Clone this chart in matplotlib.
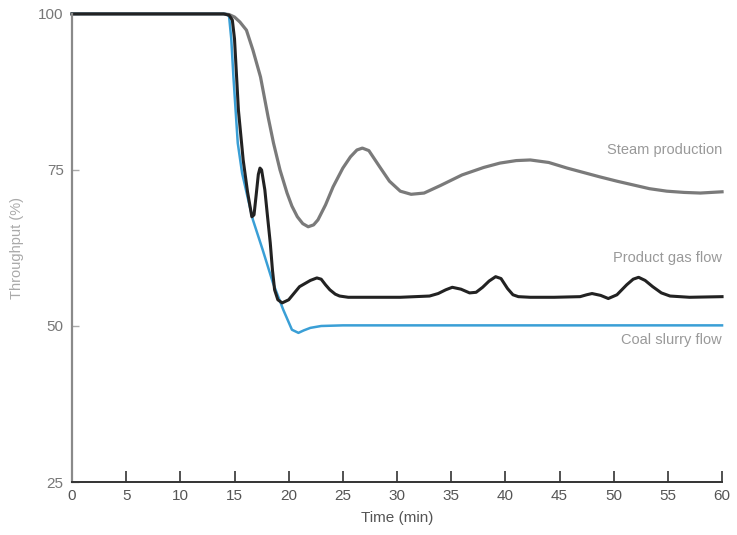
import numpy as np
import matplotlib
matplotlib.use("Agg")
import matplotlib.pyplot as plt

plt.rcParams['font.family'] = ['Liberation Sans', 'DejaVu Sans']

# values (time in min, throughput in %)
steam_t = [0, 14.0, 14.5, 15.0, 15.5, 16.1, 16.7, 17.4, 18.1, 18.6, 19.2, 19.85,
           20.3, 20.8, 21.3, 21.8, 22.3, 22.7, 23.4, 24.1, 25.0, 25.7, 26.3, 26.8,
           27.4, 28.4, 29.3, 30.3, 31.3, 32.5, 34.0, 36.0, 38.0, 39.5, 41.0, 42.3,
           44.0, 45.7, 47.2, 48.7, 50.3, 51.8, 53.3, 54.9, 56.5, 58.0, 60.0]
steam_v = [100, 100, 99.9, 99.5, 98.7, 97.4, 94.2, 89.9, 83.5, 79.3, 75.0, 71.3,
           69.2, 67.5, 66.4, 65.9, 66.2, 67.0, 69.4, 72.3, 75.3, 77.1, 78.2, 78.5,
           78.1, 75.5, 73.2, 71.6, 71.1, 71.3, 72.5, 74.2, 75.4, 76.1, 76.5, 76.6,
           76.2, 75.3, 74.6, 73.9, 73.2, 72.6, 72.0, 71.6, 71.4, 71.3, 71.5]

gas_t = [0, 14.0, 14.5, 14.8, 15.0, 15.36, 15.8, 16.2, 16.6, 16.8, 17.0, 17.2,
         17.35, 17.5, 17.8, 18.05, 18.3, 18.5, 18.7, 19.0, 19.4, 20.0, 21.0, 22.0,
         22.6, 23.0, 23.4, 23.8, 24.3, 24.7, 25.5, 28.0, 30.3, 33.0, 33.8, 34.5,
         35.1, 35.9, 36.7, 37.3, 37.9, 38.5, 39.1, 39.6, 40.2, 40.7, 41.2, 42.3,
         44.5, 46.9, 47.5, 48.0, 48.8, 49.5, 50.3, 51.2, 51.8, 52.3, 52.9, 53.6,
         54.4, 55.2, 57.0, 60.0]
gas_v = [100, 100, 99.8, 99.0, 96.0, 84.6, 76.6, 71.5, 67.5, 67.8, 71.0, 74.3,
         75.3, 75.0, 71.8, 67.5, 63.3, 59.0, 55.8, 54.2, 53.7, 54.2, 56.3, 57.3,
         57.7, 57.5, 56.6, 55.8, 55.1, 54.8, 54.6, 54.6, 54.6, 54.8, 55.2, 55.8,
         56.2, 55.9, 55.3, 55.4, 56.2, 57.2, 57.9, 57.6, 56.0, 55.0, 54.7, 54.6,
         54.6, 54.7, 55.0, 55.2, 54.9, 54.4, 55.0, 56.6, 57.5, 57.8, 57.3, 56.3,
         55.3, 54.8, 54.6, 54.7]

coal_t = [0, 14.2, 14.5, 14.7, 14.9, 15.3, 15.7, 16.2, 16.7, 17.6, 18.55, 19.5,
          20.3, 20.9, 21.4, 22.0, 23.0, 25.0, 30.0, 40.0, 50.0, 60.0]
coal_v = [100, 100, 99.6, 96.0, 89.9, 79.3, 74.5, 70.7, 67.0, 62.2, 56.9, 52.6,
          49.4, 48.9, 49.3, 49.7, 50.0, 50.1, 50.1, 50.1, 50.1, 50.1]

labels = ['Steam production', 'Product gas flow', 'Coal slurry flow']
label_y = [78.2, 60.9, 47.8]

fig = plt.figure(figsize=(7.37, 5.35), dpi=100)
ax = fig.add_axes([0.0977, 0.099, 0.882, 0.875])

ax.plot(steam_t, steam_v, color='#7a7a7a', lw=2.3, solid_joinstyle='round')
ax.plot(coal_t, coal_v, color='#3a9fd6', lw=1.8, solid_joinstyle='round')
ax.plot(gas_t, gas_v, color='#222222', lw=2.2, solid_joinstyle='round')

for lab, yv in zip(labels, label_y):
    ax.text(60, yv, lab, ha='right', va='center', fontsize=10.5, color='#999999')

ax.set_xlim(0, 60)
ax.set_ylim(25, 100)
ax.set_xticks(np.arange(0, 61, 5))
ax.set_yticks([25, 50, 75, 100])

for s in ['top', 'right']:
    ax.spines[s].set_visible(False)
ax.spines['left'].set_color('#8a8a8a')
ax.spines['left'].set_linewidth(1.6)
ax.spines['bottom'].set_color('#333333')
ax.spines['bottom'].set_linewidth(1.4)

ax.tick_params(axis='x', direction='in', length=8, width=1.2, color='#333333',
               labelsize=11, labelcolor='#555555', pad=5)
ax.tick_params(axis='y', direction='in', length=5, width=1.0, color='#aaaaaa',
               labelsize=11, labelcolor='#777777', pad=6)

ax.set_xlabel('Time (min)', fontsize=11, color='#555555', labelpad=6)
ax.set_ylabel('Throughput (%)', fontsize=10.5, color='#aaaaaa', labelpad=10)
for ln in ax.lines:
    ln.set_clip_on(False)

plt.savefig('out.png', dpi=100)
